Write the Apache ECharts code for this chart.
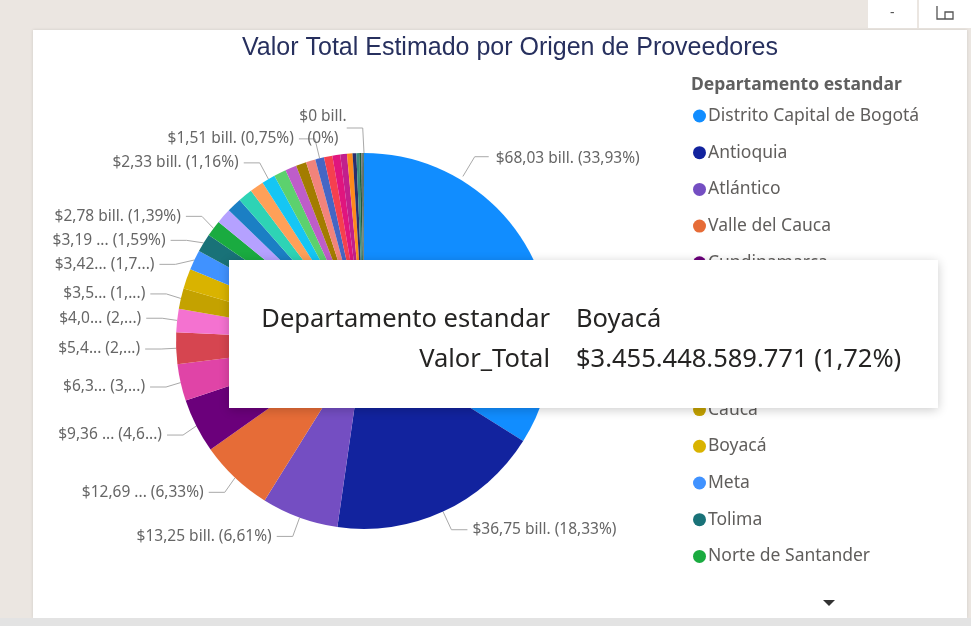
<!DOCTYPE html>
<html>
<head>
<meta charset="utf-8">
<script src="https://cdn.jsdelivr.net/npm/echarts@6/dist/echarts.min.js"></script>
<style>
  html, body { margin: 0; padding: 0; background: #ebe6e1; }
  #chart { width: 971px; height: 626px; }
</style>
</head>
<body>
<div id="chart"></div>
<script>
// Valor total por departamento, en billones de pesos
const departamentos = [
  'Distrito Capital de Bogotá', 'Antioquia', 'Atlántico', 'Valle del Cauca', 'Cundinamarca',
  'Santander', 'Bolívar', 'Magdalena', 'Cauca', 'Boyacá', 'Meta', 'Tolima', 'Norte de Santander',
  'Risaralda', 'Caldas', 'Quindío', 'Nariño', 'Huila', 'Córdoba', 'Cesar', 'Sucre', 'La Guajira',
  'Casanare', 'Caquetá', 'Chocó', 'Putumayo', 'Arauca', 'Amazonas', 'San Andrés', 'Guaviare',
  'Vichada', 'Vaupés', 'Guainía', 'No Definido'
]
const valores = [
  68.03, 36.75, 13.25, 12.69, 9.36,
  6.35, 5.42, 4.04, 3.53, 3.455448589771, 3.42, 3.19, 2.78,
  2.62, 2.55, 2.47, 2.41, 2.33, 2.12, 1.95, 1.78, 1.64,
  1.51, 1.45, 1.35, 1.15, 0.95, 0.65, 0.5, 0.35,
  0.25, 0.15, 0.05, 0
]
const colores = [
  '#118DFF', '#12239E', '#744EC2', '#E66C37', '#6B007B',
  '#E044A7', '#D64550', '#F472D0', '#C4A200', '#D9B300', '#4092FF', '#197278', '#1AAB40',
  '#B5A1FF', '#1B7FC4', '#2ED3B5', '#FFA058', '#15C6F4', '#5CD16E', '#BE5DC9', '#A37C00', '#F2837B',
  '#4566C4', '#F5404F', '#E0157E', '#C21F8C', '#FF8A1C', '#2B2F6E', '#3C8C7C', '#1D5C3E',
  '#6E6E6E', '#3A3A3A', '#1A9E60', '#222222'
]
// etiquetas tal como se ven (recortadas por Power BI); '' = sin etiqueta
const etiquetas = [
  '$68,03 bill. (33,93%)', '$36,75 bill. (18,33%)', '$13,25 bill. (6,61%)', '$12,69 ... (6,33%)', '$9,36 ... (4,6...)',
  '$6,3... (3,...)', '$5,4... (2,...)', '$4,0... (2,...)', '$3,5... (1,...)', '', '$3,42... (1,7...)', '$3,19 ... (1,59%)', '$2,78 bill. (1,39%)',
  '', '', '', '', '$2,33 bill. (1,16%)', '', '', '', '',
  '$1,51 bill. (0,75%)', '', '', '', '', '', '', '',
  '', '', '', '$0 bill.\n(0%)'
]
const leyendaVisibles = 13
const seleccionado = 'Boyacá'

const total = valores.reduce((a, b) => a + b, 0)

const fmtPesos = v => Math.round(v * 1e12).toString().replace(/\B(?=(\d{3})+(?!\d))/g, '.')
const fmtPct = v => (v / total * 100).toFixed(2).replace('.', ',')

const CENTRO = [364, 341]
const RADIO = 188

// punto sobre el borde de la torta (angulo en grados desde las 12, horario)
const enBorde = (grados, extra) => {
  const a = grados * Math.PI / 180
  return [CENTRO[0] + (RADIO + extra) * Math.sin(a), CENTRO[1] - (RADIO + extra) * Math.cos(a)]
}

const chart = echarts.init(document.getElementById('chart'))

const option = {
  animation: false,
  title: [
    {
      text: 'Valor Total Estimado por Origen de Proveedores',
      left: 505,
      top: 31,
      textAlign: 'center',
      textStyle: {
        fontFamily: 'Liberation Sans',
        fontSize: 25,
        fontWeight: 'normal',
        color: '#27305e'
      }
    },
    {
      text: 'Departamento estandar',
      left: 686,
      top: 71,
      textStyle: {
        fontFamily: 'Noto Sans',
        fontSize: 17.5,
        fontWeight: 'bold',
        color: '#5f5f5f'
      }
    }
  ],
  tooltip: {
    trigger: 'item',
    alwaysShowContent: true,
    transitionDuration: 0,
    position: [229, 260],
    padding: [37, 0, 30, 0],
    backgroundColor: '#ffffff',
    borderWidth: 0,
    extraCssText: 'width:709px;height:148px;box-sizing:border-box;border-radius:0;box-shadow:0 2px 10px rgba(0,0,0,0.2);',
    formatter: p => `
      <div style="font-family:'Noto Sans';font-size:25.5px;line-height:40px;color:#252423;">
        <div style="display:flex"><span style="width:321px;text-align:right">Departamento estandar</span><span style="margin-left:26px">${p.name}</span></div>
        <div style="display:flex"><span style="width:321px;text-align:right">Valor_Total</span><span style="margin-left:26px">$${fmtPesos(p.value)} (${fmtPct(p.value)}%)</span></div>
      </div>`
  },
  legend: {
    orient: 'vertical',
    left: 688,
    top: 101,
    icon: 'circle',
    itemWidth: 13,
    itemHeight: 13,
    itemGap: 16.7,
    data: departamentos.slice(0, leyendaVisibles),
    textStyle: {
      fontFamily: 'Noto Sans',
      fontSize: 17.5,
      lineHeight: 20,
      color: '#605e5c',
      padding: [0, 0, 0, -3]
    }
  },
  graphic: [
    { type: 'rect', z: -10, shape: { x: 33, y: 30, width: 934, height: 588 }, style: { fill: '#ffffff', shadowBlur: 3, shadowColor: 'rgba(0,0,0,0.12)' } },
    { type: 'rect', z: -10, shape: { x: 0, y: 618, width: 971, height: 8 }, style: { fill: '#e3e3e3' } },
    { type: 'rect', z: -10, shape: { x: 868, y: 0, width: 103, height: 28 }, style: { fill: '#ffffff' } },
    { type: 'rect', z: -10, shape: { x: 917, y: 0, width: 2, height: 28 }, style: { fill: '#ebe6e1' } },
    { type: 'text', z: -9, style: { x: 890, y: 6, text: '-', fontSize: 14, fill: '#555', fontFamily: 'Noto Sans' } },
    { type: 'polyline', z: -9, shape: { points: [[937, 6], [937, 19], [953, 19], [953, 12], [945, 12], [945, 19]] }, style: { stroke: '#555', fill: null, lineWidth: 1.3 } },
    { type: 'polygon', shape: { points: [[823, 600], [835, 600], [829, 606]] }, style: { fill: '#333' } }
  ],
  series: [
    {
      type: 'pie',
      center: CENTRO,
      radius: RADIO,
      startAngle: 90,
      clockwise: true,
      avoidLabelOverlap: true,
      emphasis: { scale: false },
      data: departamentos.map((n, i) => ({
        name: n,
        value: valores[i],
        itemStyle: { color: colores[i] },
        label: { show: etiquetas[i] !== '' },
        labelLine: { show: etiquetas[i] !== '' }
      })),
      label: {
        position: 'outside',
        formatter: p => etiquetas[p.dataIndex],
        fontFamily: 'Noto Sans',
        fontSize: 15.5,
        lineHeight: 22,
        color: '#666666'
      },
      labelLine: {
        length: 20,
        length2: 16,
        lineStyle: { color: '#a9a9a9', width: 1 }
      },
      // Power BI sube la etiqueta del sector mayor y deja la de 0 % a la izquierda
      labelLayout: p => {
        if (p.dataIndex === 0) {
          const ini = enBorde(31, 4)
          const codo = enBorde(31, 27)
          return {
            x: codo[0] + 21, y: codo[1] + 2, align: 'left', verticalAlign: 'middle',
            labelLinePoints: [ini, codo, [codo[0] + 14, codo[1]]]
          }
        }
        if (p.dataIndex === departamentos.length - 1) return { x: 323, y: 128, align: 'center', verticalAlign: 'middle' }
        return {}
      },
      itemStyle: { borderWidth: 0 }
    }
  ]
}

chart.setOption(option)
chart.dispatchAction({
  type: 'showTip',
  seriesIndex: 0,
  dataIndex: departamentos.indexOf(seleccionado)
})
</script>
</body>
</html>
